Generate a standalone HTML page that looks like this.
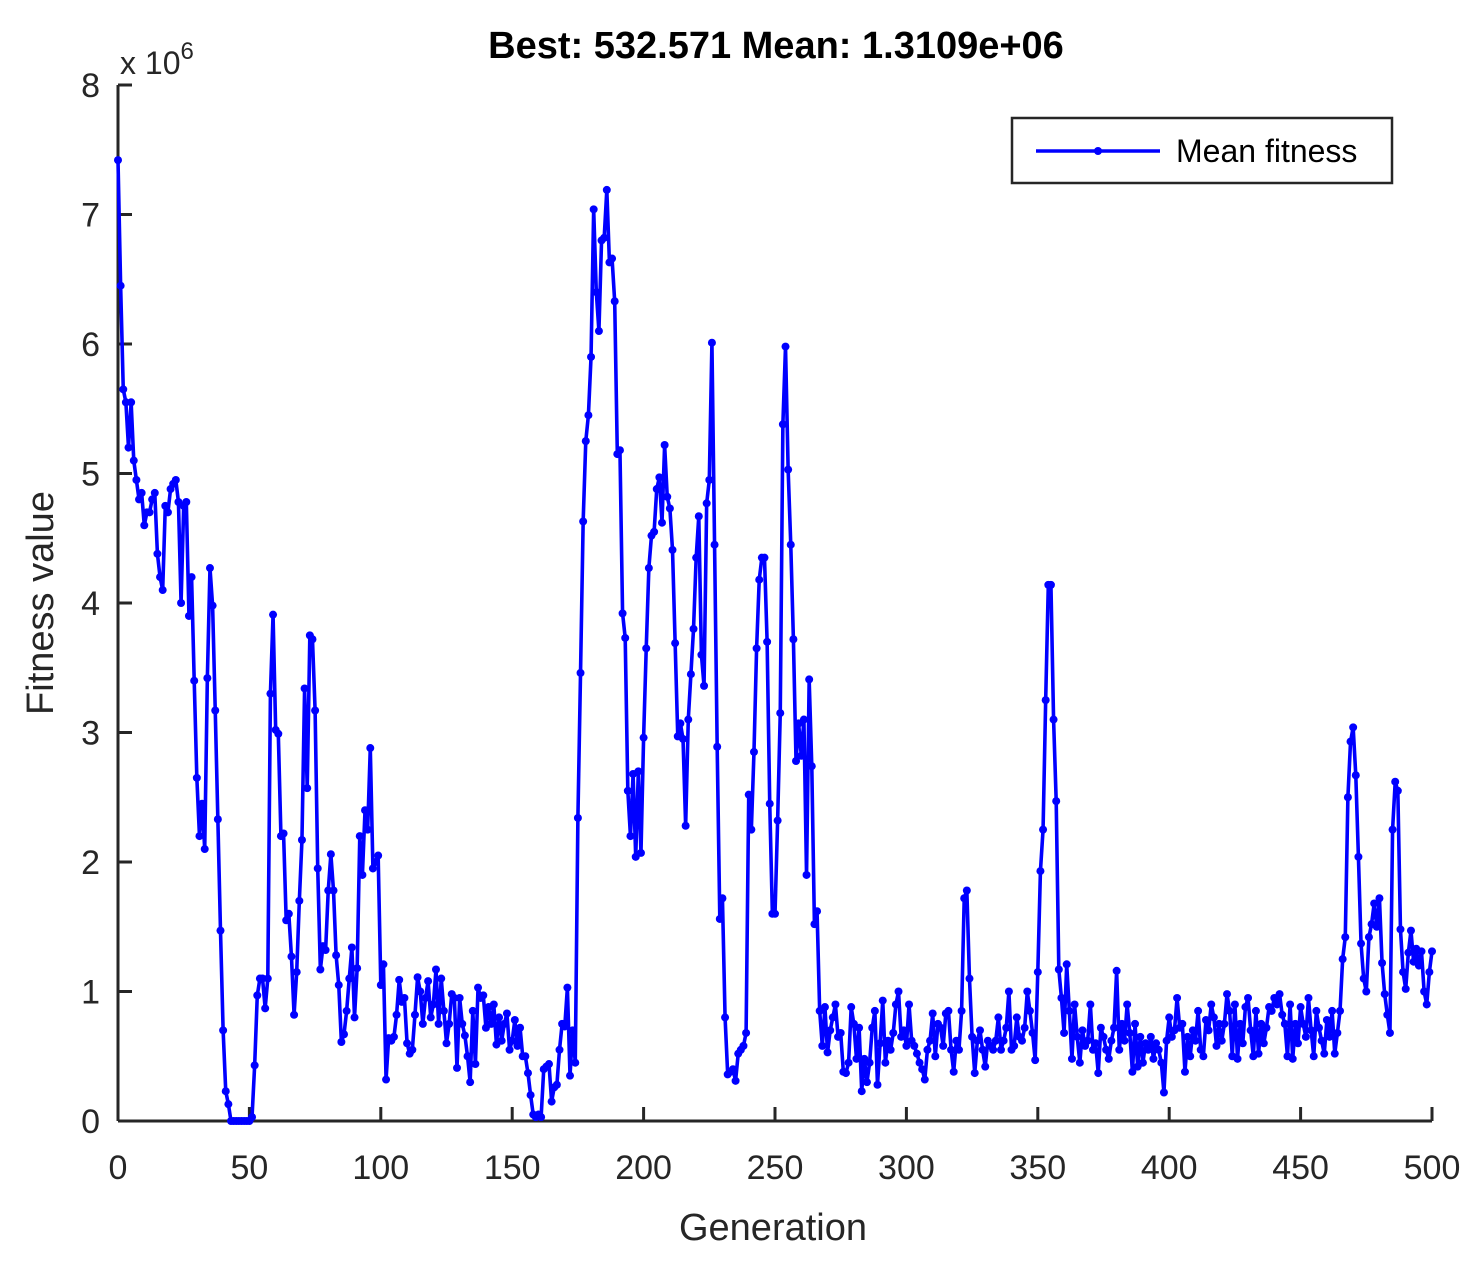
<!DOCTYPE html>
<html><head><meta charset="utf-8"><style>
body{margin:0;background:#fff;}
svg text{font-family:"Liberation Sans",Arial,sans-serif;fill:#262626;}
</style></head><body>
<svg id="chart" width="1476" height="1258" viewBox="0 0 1476 1258" xmlns="http://www.w3.org/2000/svg">
<rect width="1476" height="1258" fill="#fff"/>
<text x="776" y="58" font-size="38" font-weight="bold" text-anchor="middle" style="fill:#000">Best: 532.571 Mean: 1.3109e+06</text>
<text x="120" y="74" font-size="32">x 10<tspan dy="-15" font-size="24">6</tspan></text>
<g id="axes"></g>
<g id="series"></g>
<text x="773" y="1240" font-size="38" text-anchor="middle">Generation</text>
<text transform="translate(53,603) rotate(-90)" font-size="38" text-anchor="middle">Fitness value</text>
<g>
<rect x="1012" y="118" width="380" height="65" fill="#fff" stroke="#262626" stroke-width="2.5"/>
<line x1="1036" y1="151" x2="1160" y2="151" stroke="#0000ff" stroke-width="3.5"/>
<circle cx="1098" cy="151" r="4" fill="#0000ff"/>
<text x="1176" y="162" font-size="32" style="fill:#000">Mean fitness</text>
</g>
</svg>
<script>
const xTicks=[0,50,100,150,200,250,300,350,400,450,500];
const yTicks=[0,1,2,3,4,5,6,7,8];
const meanFitness=[
7.42,6.45,5.65,5.55,5.2,5.55,5.1,4.95,4.8,4.85,
4.6,4.7,4.7,4.8,4.85,4.38,4.2,4.1,4.75,4.7,
4.88,4.92,4.95,4.78,4.0,4.75,4.78,3.9,4.2,3.4,
2.65,2.2,2.45,2.1,3.42,4.27,3.98,3.17,2.33,1.47,
0.7,0.23,0.13,0,0,0,0,0,0,0,
0,0.03,0.43,0.97,1.1,1.1,0.87,1.1,3.3,3.91,
3.02,2.99,2.2,2.22,1.55,1.6,1.27,0.82,1.15,1.7,
2.17,3.34,2.57,3.75,3.72,3.17,1.95,1.17,1.35,1.32,
1.78,2.06,1.78,1.28,1.05,0.61,0.67,0.85,1.1,1.34,
0.8,1.18,2.2,1.9,2.4,2.25,2.88,1.95,2.0,2.05,
1.05,1.21,0.32,0.64,0.62,0.65,0.82,1.09,0.92,0.95,
0.6,0.52,0.55,0.82,1.11,1.0,0.75,0.95,1.08,0.8,
0.9,1.17,0.75,1.1,0.85,0.6,0.75,0.98,0.95,0.41,
0.95,0.75,0.66,0.5,0.3,0.85,0.44,1.03,0.95,0.97,
0.72,0.88,0.75,0.9,0.59,0.8,0.62,0.75,0.83,0.55,
0.62,0.78,0.58,0.72,0.5,0.5,0.37,0.2,0.05,0.03,
0.05,0.03,0.4,0.42,0.44,0.15,0.26,0.28,0.55,0.75,
0.73,1.03,0.35,0.7,0.45,2.34,3.46,4.63,5.25,5.45,
5.9,7.04,6.4,6.1,6.8,6.82,7.19,6.63,6.66,6.33,
5.15,5.18,3.92,3.73,2.55,2.2,2.68,2.04,2.7,2.07,
2.96,3.65,4.27,4.52,4.55,4.88,4.97,4.62,5.22,4.82,
4.73,4.41,3.69,2.97,3.07,2.95,2.28,3.1,3.45,3.8,
4.35,4.67,3.6,3.36,4.77,4.95,6.01,4.45,2.89,1.56,
1.72,0.8,0.36,0.38,0.4,0.31,0.52,0.55,0.58,0.68,
2.52,2.25,2.85,3.65,4.18,4.35,4.35,3.7,2.45,1.6,
1.6,2.32,3.15,5.38,5.98,5.03,4.45,3.72,2.78,3.07,
2.82,3.1,1.9,3.41,2.74,1.52,1.62,0.85,0.58,0.88,
0.53,0.7,0.8,0.9,0.65,0.68,0.38,0.37,0.45,0.88,
0.75,0.48,0.72,0.23,0.48,0.3,0.45,0.72,0.85,0.28,
0.6,0.93,0.45,0.62,0.55,0.68,0.9,1.0,0.65,0.7,
0.58,0.9,0.62,0.58,0.52,0.45,0.4,0.32,0.55,0.62,
0.83,0.5,0.75,0.72,0.58,0.83,0.85,0.55,0.38,0.62,
0.55,0.85,1.72,1.78,1.1,0.65,0.37,0.62,0.7,0.55,
0.42,0.62,0.58,0.55,0.62,0.8,0.55,0.62,0.72,1.0,
0.55,0.58,0.8,0.65,0.62,0.72,1.0,0.85,0.68,0.47,
1.15,1.93,2.25,3.25,4.14,4.14,3.1,2.47,1.17,0.95,
0.68,1.21,0.85,0.48,0.9,0.65,0.45,0.7,0.58,0.62,
0.9,0.55,0.6,0.37,0.72,0.65,0.55,0.48,0.62,0.72,
1.16,0.55,0.75,0.62,0.9,0.68,0.38,0.75,0.42,0.65,
0.45,0.6,0.55,0.65,0.48,0.6,0.55,0.45,0.22,0.62,
0.8,0.65,0.7,0.95,0.72,0.75,0.38,0.65,0.5,0.7,
0.62,0.85,0.55,0.5,0.78,0.7,0.9,0.8,0.58,0.75,
0.62,0.75,0.98,0.85,0.5,0.9,0.48,0.75,0.6,0.88,
0.95,0.7,0.5,0.85,0.52,0.75,0.6,0.72,0.88,0.85,
0.95,0.9,0.98,0.82,0.75,0.5,0.9,0.48,0.75,0.6,
0.88,0.75,0.65,0.95,0.7,0.5,0.85,0.72,0.62,0.52,
0.78,0.65,0.85,0.52,0.68,0.85,1.25,1.42,2.5,2.93,
3.04,2.67,2.04,1.37,1.1,1.0,1.42,1.52,1.68,1.5,
1.72,1.22,0.98,0.82,0.68,2.25,2.62,2.55,1.48,1.15,
1.02,1.3,1.47,1.23,1.33,1.2,1.31,1.0,0.9,1.15,
1.31];

const L=118,R=1432,T=85,B=1121;
const xS=g=>L+(g-0)/(500-0)*(R-L);
const yS=v=>B-(v-0)/(8-0)*(B-T);
const NS='http://www.w3.org/2000/svg';
function mk(tag,attrs,parent){const e=document.createElementNS(NS,tag);for(const k in attrs)e.setAttribute(k,attrs[k]);parent.appendChild(e);return e;}
const ax=document.getElementById('axes');
let e;
e=mk('line',{x1:L,y1:B,x2:R,y2:B,stroke:'#262626','stroke-width':3},ax);


e=mk('line',{x1:L,y1:B,x2:L,y2:T,stroke:'#262626','stroke-width':3},ax);


xTicks.forEach(t=>{
  const tk=mk('line',{x1:xS(t),y1:B,x2:xS(t),y2:B-14,stroke:'#262626','stroke-width':3},ax);
  
  
  const tx=mk('text',{x:xS(t),y:B+58,'font-size':34,'text-anchor':'middle'},ax);
  tx.textContent=t;
  
  
});
yTicks.forEach(t=>{
  const tk=mk('line',{x1:L,y1:yS(t),x2:L+14,y2:yS(t),stroke:'#262626','stroke-width':3},ax);
  
  
  const tx=mk('text',{x:L-18,y:yS(t)+12,'font-size':34,'text-anchor':'end'},ax);
  tx.textContent=t;
  
  
});
const sg=document.getElementById('series');
const pts=meanFitness.map((v,i)=>xS(i).toFixed(2)+','+yS(v).toFixed(2)).join(' ');
const pl=mk('polyline',{points:pts,fill:'none',stroke:'#0000ff','stroke-width':3.6,'stroke-linejoin':'round'},sg);


meanFitness.forEach((v,i)=>{
  const c=mk('circle',{cx:xS(i),cy:yS(v),r:4,fill:'#0000ff'},sg);
  
  
});
</script>
</body></html>
